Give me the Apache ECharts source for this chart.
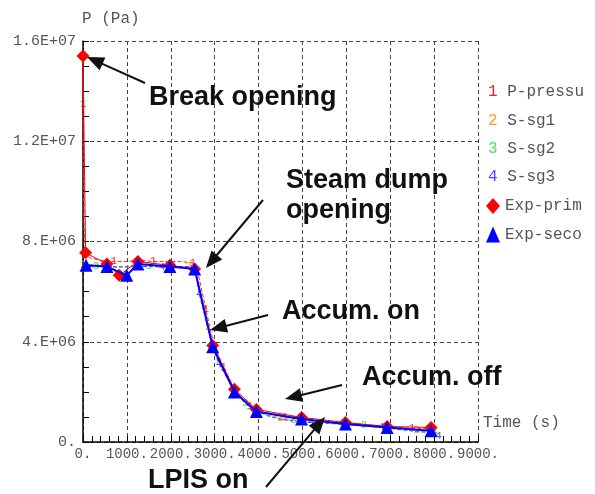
<!DOCTYPE html>
<html>
<head>
<meta charset="utf-8">
<script src="https://cdn.jsdelivr.net/npm/echarts@6/dist/echarts.min.js"></script>
<style>html,body{margin:0;padding:0;background:#fff;}#c{width:595px;height:494px;}</style>
</head>
<body>
<div id="c"></div>
<script>
// ---- data (pressure in units of 1e6 Pa, time in s) ----
var xTickLabels = ['0.', '1000.', '2000.', '3000.', '4000.', '5000.', '6000.', '7000.', '8000.', '9000.'];
var yTickLabels = ['0.', '4.E+06', '8.E+06', '1.2E+07', '1.6E+07'];
var seriesNames = ['P-pressu', 'S-sg1', 'S-sg2', 'S-sg3', 'Exp-prim', 'Exp-seco'];

var primT = [0, 5, 12, 25, 50, 150, 400, 700, 1000, 1300, 1600, 1900, 2200, 2500, 2600, 2700, 2800, 2900, 3000, 3200, 3400, 3600, 3800, 4000, 4300, 4600, 5000, 5500, 6000, 6500, 7000, 7500, 8000];
var primP = [15.5, 13.5, 11.0, 8.6, 7.6, 7.35, 7.25, 7.2, 7.2, 7.25, 7.2, 7.2, 7.2, 7.15, 6.9, 6.1, 5.3, 4.5, 3.8, 3.0, 2.3, 1.8, 1.45, 1.25, 1.08, 0.98, 0.9, 0.8, 0.74, 0.68, 0.6, 0.55, 0.52];

var secT = [0, 300, 600, 900, 1200, 1500, 1800, 2100, 2400, 2550, 2650, 2750, 2850, 2950, 3100, 3300, 3500, 3700, 3900, 4200, 4500, 4800, 5200, 5600, 6000, 6400, 6800, 7200, 7600, 8000, 8100];
var sg1P = [7.05, 7.1, 7.0, 7.0, 7.05, 7.05, 7.0, 7.0, 7.0, 6.9, 6.0, 5.3, 4.6, 3.9, 3.2, 2.6, 2.0, 1.6, 1.35, 1.1, 0.95, 0.88, 0.82, 0.8, 0.72, 0.68, 0.62, 0.55, 0.48, 0.42, 0.36];
var sg2P = [7.0, 7.0, 6.95, 7.0, 7.0, 7.0, 7.0, 6.95, 7.0, 6.85, 5.95, 5.25, 4.55, 3.85, 3.15, 2.55, 1.95, 1.55, 1.3, 1.08, 0.92, 0.86, 0.8, 0.76, 0.7, 0.66, 0.6, 0.52, 0.45, 0.4, 0.33];
var sg3P = [7.0, 7.0, 7.0, 6.98, 7.0, 7.0, 6.98, 7.0, 7.0, 6.88, 5.9, 5.2, 4.5, 3.8, 3.1, 2.5, 1.95, 1.52, 1.28, 1.05, 0.9, 0.84, 0.78, 0.74, 0.7, 0.64, 0.58, 0.5, 0.42, 0.35, 0.22];

var expPrimT = [0, 60, 545, 825, 1250, 1980, 2545, 2955, 3450, 3950, 4980, 5980, 6930, 7930];
var expPrimP = [15.4, 7.55, 7.1, 6.65, 7.2, 7.05, 6.9, 3.85, 2.1, 1.3, 0.98, 0.78, 0.62, 0.58];
var expSecT = [70, 545, 995, 1250, 1980, 2545, 2955, 3450, 3950, 4980, 5980, 6930, 7930];
var expSecP = [7.05, 7.0, 6.65, 7.1, 7.0, 6.9, 3.8, 2.0, 1.22, 0.92, 0.72, 0.58, 0.45];

// ---- build ----
var MONO = 'Liberation Mono';
function pairs(t, p, digit, color, step, offset) {
  return t.map(function (x, i) {
    var item = { value: [x, p[i]] };
    if (digit) {
      item.label = { show: (i % step) === offset, formatter: digit, position: 'inside', color: color, fontSize: 11, fontFamily: MONO };
    }
    return item;
  });
}
var simColors = ['#ff2020', '#ffa020', '#50dd50', '#4a4aff'];

function simSeries(idx, t, p, step, offset) {
  return {
    name: seriesNames[idx], type: 'line', symbol: 'circle', symbolSize: 1, showAllSymbol: true, silent: true,
    data: pairs(t, p, String(idx + 1), simColors[idx], step, offset),
    lineStyle: { color: simColors[idx], width: 1, type: [4, 2] },
    itemStyle: { color: 'rgba(0,0,0,0)' },
    label: { show: false },
    z: 3 + idx, animation: false
  };
}

var chart = echarts.init(document.getElementById('c'), null, { renderer: 'canvas' });

function arrow(x1, y1, x2, y2) {
  var dx = x2 - x1, dy = y2 - y1, L = Math.sqrt(dx * dx + dy * dy);
  var ux = dx / L, uy = dy / L, hl = 17, hw = 7;
  var bx = x2 - ux * hl, by = y2 - uy * hl;
  return [
    { type: 'line', shape: { x1: x1, y1: y1, x2: bx + ux * 2, y2: by + uy * 2 }, style: { stroke: '#111', lineWidth: 2 }, z: 100 },
    { type: 'polygon', shape: { points: [[x2, y2], [bx - uy * hw, by + ux * hw], [bx + uy * hw, by - ux * hw]] }, style: { fill: '#111' }, z: 100 }
  ];
}
function note(text, x, y) {
  return { type: 'text', x: x, y: y, z: 100, style: { text: text, fill: '#111', font: 'bold 27px "Liberation Sans", Arial, sans-serif', textVerticalAlign: 'middle', verticalAlign: 'middle' } };
}
var graphics = [].concat(
  arrow(145, 83, 87, 57), arrow(263, 200, 206, 268), arrow(268, 315, 210, 330),
  arrow(342, 385, 285, 399), arrow(266, 487, 325, 417),
  [note('Break opening', 149, 98), note('Steam dump', 286, 181), note('opening', 286, 211),
   note('Accum. on', 282, 312), note('Accum. off', 362, 378), note('LPIS on', 148, 481),
   { type: 'text', x: 483, y: 423, style: { text: 'Time (s)', fill: '#555', font: '16px "Liberation Mono"', verticalAlign: 'middle', textVerticalAlign: 'middle' } }]
);

var legendRich = {};
for (var k = 0; k < 4; k++) {
  legendRich['d' + k] = { color: simColors[k], fontFamily: MONO, fontSize: 16, lineHeight: 16 };
}
legendRich.t = { color: '#555', fontFamily: MONO, fontSize: 16, lineHeight: 16 };

var option = {
  animation: false,
  backgroundColor: '#fff',
  grid: { left: 83, right: 117, top: 41, bottom: 52, containLabel: false },
  legend: [
    {
      data: seriesNames.slice(0, 4).map(function (n) { return { name: n, icon: 'none' }; }),
      orient: 'vertical', left: 482, top: 84, itemWidth: 1, itemHeight: 16, itemGap: 12.4, textGap: 5,
      padding: 0, selectedMode: false,
      formatter: function (n) { var i = seriesNames.indexOf(n); return '{d' + i + '|' + (i + 1) + '}{t| ' + n + '}'; },
      textStyle: { rich: legendRich, color: '#555', fontFamily: MONO, fontSize: 16, lineHeight: 16 }
    },
    {
      data: [{ name: 'Exp-prim', icon: 'diamond' }, { name: 'Exp-seco', icon: 'triangle' }],
      orient: 'vertical', left: 486, top: 198, itemWidth: 14, itemHeight: 16, itemGap: 12.4, textGap: 6,
      padding: 0, selectedMode: false,
      textStyle: { color: '#555', fontFamily: MONO, fontSize: 16, lineHeight: 16 }
    }
  ],
  xAxis: {
    type: 'value', min: 0, max: 9000, interval: 1000,
    axisLine: { show: true, lineStyle: { color: '#000', width: 1.5 } },
    axisTick: { show: true, inside: true, length: 6, lineStyle: { color: '#000' } },
    minorTick: { show: true, splitNumber: 5, length: 6, lineStyle: { color: '#000' } },
    splitLine: { show: true, lineStyle: { color: '#444', type: [4, 3], width: 1 } },
    axisLabel: { margin: 5, color: '#555', fontFamily: MONO, fontSize: 14, showMinLabel: true, showMaxLabel: true, hideOverlap: false,
      formatter: function (v) { return xTickLabels[Math.round(v / 1000)]; } }
  },
  yAxis: {
    type: 'value', min: 0, max: 16, interval: 4,
    name: 'P (Pa)', nameLocation: 'end', nameGap: 14,
    nameTextStyle: { color: '#555', fontFamily: MONO, fontSize: 16, align: 'left', padding: [0, 0, 0, -1] },
    axisLine: { show: true, lineStyle: { color: '#000', width: 1.5 } },
    axisTick: { show: true, inside: true, length: 6, lineStyle: { color: '#000' } },
    minorTick: { show: true, splitNumber: 4, length: 6, lineStyle: { color: '#000' } },
    splitLine: { show: true, lineStyle: { color: '#444', type: [4, 3], width: 1 } },
    axisLabel: { margin: 7, color: '#555', fontFamily: MONO, fontSize: 15,
      formatter: function (v) { return yTickLabels[Math.round(v / 4)]; } }
  },
  series: [
    simSeries(0, primT, primP, 3, 1),
    simSeries(1, secT, sg1P, 4, 0),
    simSeries(2, secT, sg2P, 4, 1),
    simSeries(3, secT, sg3P, 4, 2),
    {
      name: 'Exp-prim', type: 'line', symbol: 'diamond', symbolSize: 13,
      data: pairs(expPrimT, expPrimP), itemStyle: { color: '#ff0000' },
      lineStyle: { color: '#ff0000', width: 1 }, z: 8, animation: false
    },
    {
      name: 'Exp-seco', type: 'line', symbol: 'triangle', symbolSize: 13,
      data: pairs(expSecT, expSecP), itemStyle: { color: '#0000ff' },
      lineStyle: { color: '#0000ff', width: 2 }, z: 9, animation: false
    }
  ],
  graphic: graphics
};
chart.setOption(option);
</script>
</body>
</html>
